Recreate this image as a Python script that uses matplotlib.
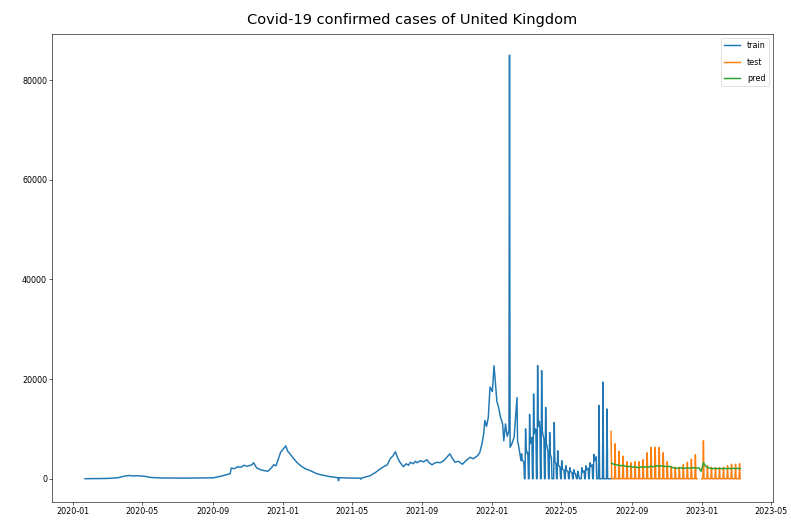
import numpy as np
import pandas as pd
import matplotlib
matplotlib.use('Agg')
import matplotlib.pyplot as plt
import matplotlib.dates as mdates

# daily confirmed cases, train part up to 2022-02-20 (read as knots)
train_dates = ['2020-01-22', '2020-03-01', '2020-03-20', '2020-03-30', '2020-04-08', '2020-04-15',
               '2020-04-22', '2020-05-04', '2020-05-16', '2020-06-02', '2020-07-15', '2020-08-15',
               '2020-09-02', '2020-09-15', '2020-09-29', '2020-10-01', '2020-10-03', '2020-10-08',
               '2020-10-14', '2020-10-20', '2020-10-25', '2020-10-30', '2020-11-03', '2020-11-08',
               '2020-11-11', '2020-11-16', '2020-11-23', '2020-11-30', '2020-12-06', '2020-12-12',
               '2020-12-16', '2020-12-20', '2020-12-23', '2020-12-28', '2021-01-02', '2021-01-06',
               '2021-01-09', '2021-01-11', '2021-01-16', '2021-01-20', '2021-01-26', '2021-02-01',
               '2021-02-09', '2021-02-18', '2021-03-01', '2021-03-08', '2021-03-25', '2021-04-07',
               '2021-04-08', '2021-04-09', '2021-04-29', '2021-05-16', '2021-05-17', '2021-05-18',
               '2021-06-02', '2021-06-12', '2021-06-20', '2021-06-27', '2021-07-02', '2021-07-07',
               '2021-07-12', '2021-07-16', '2021-07-20', '2021-07-24', '2021-07-30', '2021-08-04',
               '2021-08-08', '2021-08-11', '2021-08-16', '2021-08-20', '2021-08-23', '2021-08-28',
               '2021-09-03', '2021-09-09', '2021-09-14', '2021-09-18', '2021-09-22', '2021-09-27',
               '2021-10-02', '2021-10-08', '2021-10-13', '2021-10-19', '2021-10-23', '2021-10-28',
               '2021-11-03', '2021-11-10', '2021-11-16', '2021-11-23', '2021-11-29', '2021-12-06',
               '2021-12-10', '2021-12-14', '2021-12-17', '2021-12-19', '2021-12-22', '2021-12-25',
               '2021-12-28', '2022-01-01', '2022-01-02', '2022-01-04', '2022-01-07', '2022-01-09',
               '2022-01-12', '2022-01-15', '2022-01-19', '2022-01-21', '2022-01-24', '2022-01-27',
               '2022-01-30', '2022-01-31', '2022-02-01', '2022-02-04', '2022-02-08', '2022-02-13',
               '2022-02-14', '2022-02-16', '2022-02-18', '2022-02-20']
train_vals = [0, 50, 200, 500, 650, 550,
              600, 500, 250, 150, 120, 150,
              180, 500, 950, 1000, 2150, 2000,
              2400, 2300, 2700, 2500, 2600, 2800,
              3200, 2200, 1800, 1600, 1500, 2200,
              2800, 2600, 3600, 5300, 6000, 6600,
              5600, 5300, 4600, 4000, 3200, 2600,
              2000, 1600, 1000, 800, 400, 200,
              -400, 200, 130, 100, -100, 120,
              600, 1300, 2000, 2500, 2800, 4000,
              4600, 5400, 4200, 3300, 2400, 3000,
              2700, 3300, 3000, 3500, 3200, 3600,
              3400, 3800, 3100, 2800, 3100, 3300,
              3200, 3600, 4200, 5000, 4200, 3300,
              3500, 2900, 3600, 4300, 4000, 4600,
              5200, 7000, 9000, 11700, 10500, 12300,
              18400, 17500, 19000, 22700, 18400, 15500,
              14300, 12500, 11000, 7600, 11000, 8500,
              9600, 85000, 6300, 7000, 8300, 16300,
              7600, 6500, 5000, 3600]

# from 2022-02-21 reporting stops at weekends, then goes weekly (Mon..Sun rows)
train_daily_start = '2022-02-21'
train_daily = [
    5000, 4000, 3600, 3500, 3300, 0, 0,
    10000, 6000, 5500, 5000, 5200, 0, 0,
    12900, 7000, 7500, 8000, 8300, 0, 0,
    17000, 9000, 9500, 10000, 9800, 0, 0,
    22700, 10500, 11000, 11500, 10000, 0, 0,
    21700, 9800, 9000, 8500, 8000, 0, 0,
    14300, 7000, 6800, 6000, 5500, 0, 0,
    9300, 5000, 4500, 4200, 0, 0, 0,
    0, 11300, 3500, 3200, 3000, 0, 0,
    5600, 2800, 2600, 2500, 2300, 0, 0,
    3600, 2000, 1900, 1800, 1700, 0, 0,
    2600, 1800, 1600, 1500, 1400, 0, 0,
    2200, 1500, 1400, 1300, 1200, 0, 0,
    1800, 1200, 1100, 1000, 400, 0, 0,
    1500, 1000, 400, 0, 0, 0, 0,
    2200, 1300, 1400, 1500, 1600, 0, 0,
    2600, 1800, 1900, 2000, 2100, 0, 0,
    3200, 2400, 2500, 2700, 2800, 0, 0,
    4900, 3600, 3800, 4000, 4400, 0, 0,
    0, 0, 14700, 0, 0, 0, 0,
    0, 0, 19400, 0, 0, 0, 0,
    0, 0, 14000, 0, 0, 0, 0,
    0, 0,
]

# test: weekly reports (Wednesdays), other days are 0
test_start = '2022-07-27'
test_end = '2023-03-09'
test_weekly = [9500, 7000, 5500, 4500, 3400, 3200, 3400, 3400, 3800, 5200, 6300,
               6300, 6300, 5200, 3400, 2500, 2300, 2300, 2800, 3300, 3900, 4800,
               np.nan, 7600, 2600, 2300, 2200, 2200, 2300, 2600, 2900, 2900, 3000]
test_gap = ('2022-12-25', '2022-12-31')

# model prediction, every 4 days
pred_start = '2022-07-28'
pred_vals = [3100, 2900, 2800, 2700, 2600, 2700, 2500, 2400, 2500, 2300,
             2400, 2300, 2200, 2400, 2300, 2400, 2300, 2500, 2400, 2500,
             2600, 2500, 2600, 2500, 2400, 2500, 2300, 2200, 2100, 2100,
             2200, 2100, 2100, 2200, 2100, 2200, 2200, 2100, 2200, 1500,
             3200, 2500, 2200, 2100, 2000, 2100, 2000, 2100, 2000, 2100,
             2000, 2100, 2000, 2100, 2000, 2100, 2000]

train = pd.concat([
    pd.Series(train_vals, index=pd.to_datetime(train_dates)),
    pd.Series(train_daily, index=pd.date_range(train_daily_start, periods=len(train_daily), freq='D')),
])

test_w = pd.Series(test_weekly, index=pd.date_range(test_start, periods=len(test_weekly), freq='7D'))
test = test_w.reindex(pd.date_range(test_start, test_end, freq='D'), fill_value=0)
test[test_gap[0]:test_gap[1]] = np.nan

pred = pd.Series(pred_vals, index=pd.date_range(pred_start, periods=len(pred_vals), freq='4D'))

fig = plt.figure(figsize=(15, 9.94))
ax = fig.add_subplot(111)
ax.plot(train.index, train.values, label='train', linewidth=2)
ax.plot(test.index, test.values, label='test', linewidth=2)
ax.plot(pred.index, pred.values, label='pred', linewidth=2)
ax.xaxis.set_major_locator(mdates.MonthLocator(bymonth=[1, 5, 9]))
ax.xaxis.set_major_formatter(mdates.DateFormatter('%Y-%m'))
ax.tick_params(labelsize=11)
ax.set_title('Covid-19 confirmed cases of United Kingdom', fontsize=20, pad=14)
ax.legend(loc='upper right', fontsize=11, labelspacing=0.9)
fig.subplots_adjust(left=0.066, right=0.977, bottom=0.042, top=0.935)
fig.savefig('out.png', dpi=52.74)
